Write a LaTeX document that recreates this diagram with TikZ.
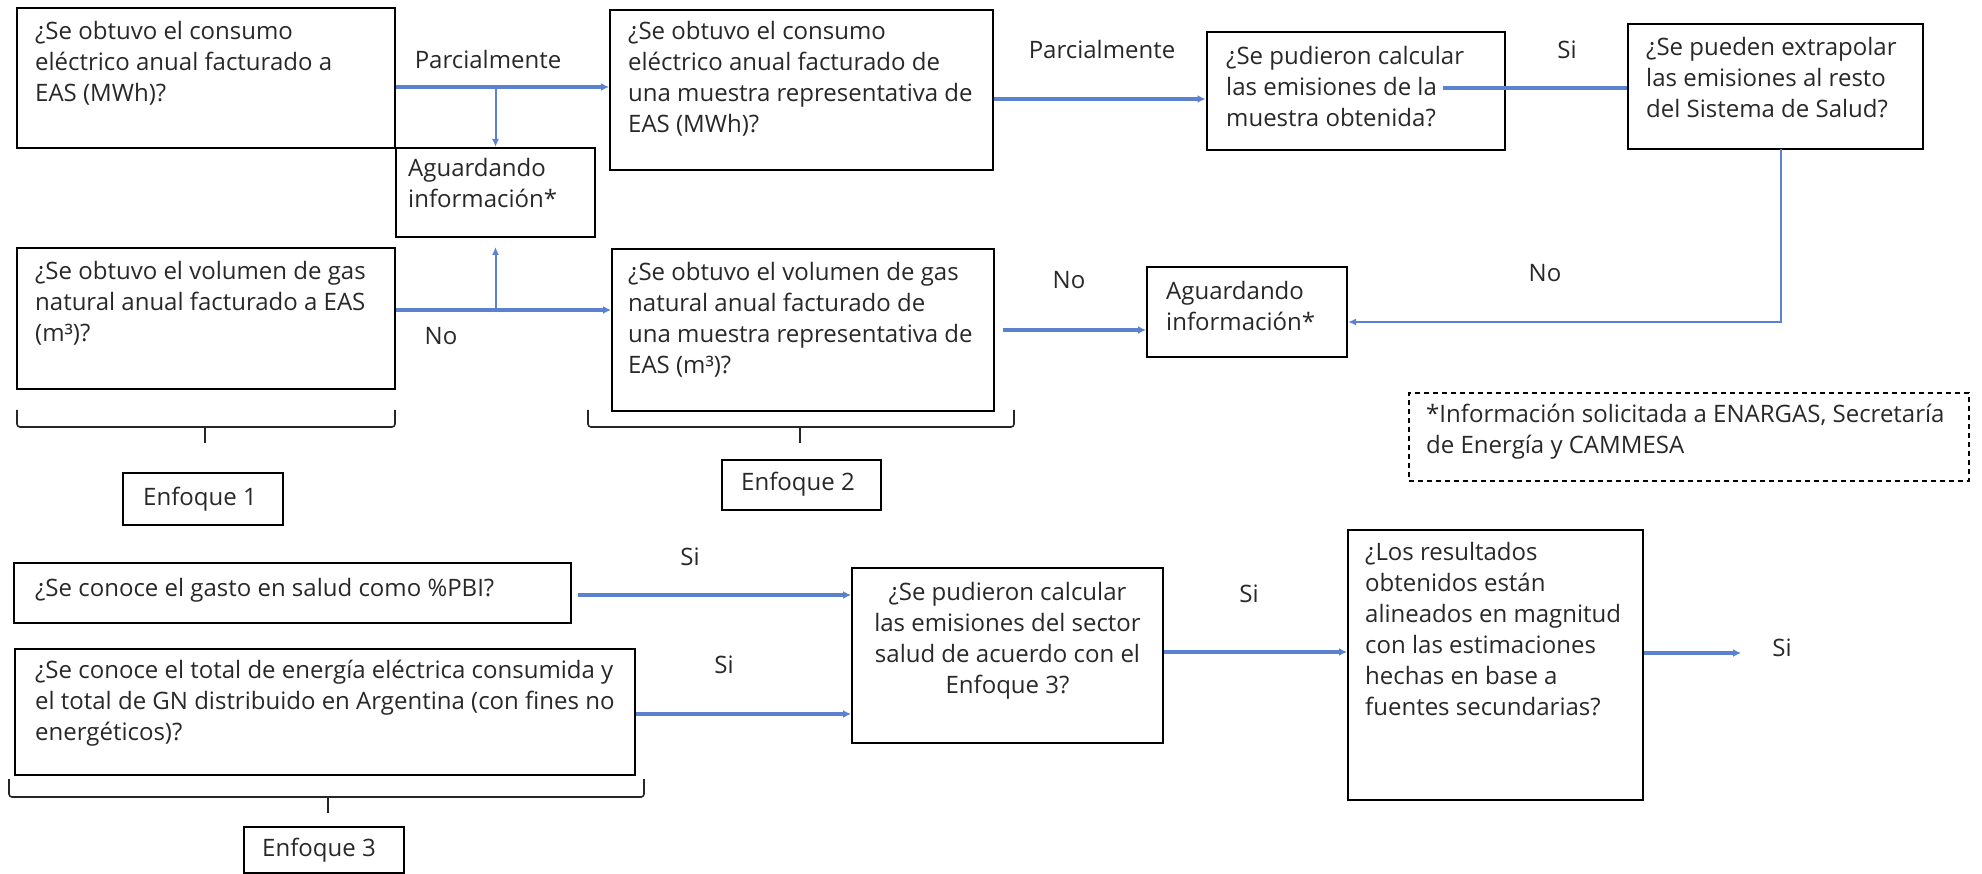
\documentclass[tikz,border=0pt]{standalone}
\usepackage{fontspec}
\setmainfont{Open Sans}
\usetikzlibrary{arrows.meta,calc}
\definecolor{conncol}{HTML}{5A82D0}
\definecolor{inkcol}{HTML}{282828}
\newcommand\txtlines[1]{\vtop{\halign{##\hfil\cr#1\crcr}}}
\newcommand\ctxtlines[1]{\vtop{\halign{\hfil##\hfil\cr#1\crcr}}}
\tikzset{
  qbox/.style={draw=black, line width=2pt, inner sep=0pt},
  notebox/.style={draw=black, line width=1.5pt, dash pattern=on 5pt off 4pt, inner sep=0pt},
  qtext/.style={anchor=base west, inner sep=0pt, text=inkcol, font=\fontsize{24}{31}\selectfont},
  ctext/.style={anchor=base, inner sep=0pt, text=inkcol, font=\fontsize{24}{31}\selectfont},
  arr/.style={draw=conncol, line width=3.2pt, -{Latex[length=8pt,width=8pt]}},
  thinarr/.style={draw=conncol, line width=2pt, -{Latex[length=8pt,width=7pt]}},
  plainconn/.style={draw=conncol, line width=3.2pt},
  bracketline/.style={draw=black!85, line width=1.6pt, rounded corners=3pt},
}
\begin{document}
\begin{tikzpicture}[x=1pt,y=-1pt]
\useasboundingbox (0,0) rectangle (1982,874);

% ---------- boxes ----------
\node[qbox, minimum width=378pt, minimum height=140pt] (a1) at (206,78.5) {};
\node[qbox, minimum width=199pt, minimum height=89pt] (w1) at (495.5,192.5) {};
\node[qbox, minimum width=378pt, minimum height=141pt] (a2) at (206,318.5) {};
\node[qbox, minimum width=160pt, minimum height=52pt] (enf1) at (203,499) {};
\node[qbox, minimum width=383pt, minimum height=160pt] (b1) at (801.5,90) {};
\node[qbox, minimum width=382pt, minimum height=162pt] (b2) at (803,330) {};
\node[qbox, minimum width=159pt, minimum height=50pt] (enf2) at (801.5,485) {};
\node[qbox, minimum width=298pt, minimum height=118pt] (c1) at (1355.5,91) {};
\node[qbox, minimum width=295pt, minimum height=125pt] (d1) at (1775.5,86.5) {};
\node[qbox, minimum width=200pt, minimum height=90pt] (w2) at (1247,312) {};
\node[notebox, minimum width=560pt, minimum height=88pt] (note) at (1689,437) {};
\node[qbox, minimum width=557pt, minimum height=60pt] (e1) at (292.5,593) {};
\node[qbox, minimum width=620pt, minimum height=126pt] (e2) at (324.5,712) {};
\node[qbox, minimum width=160pt, minimum height=46pt] (enf3) at (324,849.5) {};
\node[qbox, minimum width=311pt, minimum height=175pt] (f) at (1007.5,655.5) {};
\node[qbox, minimum width=295pt, minimum height=270pt] (g) at (1495.5,665) {};

% ---------- texts ----------
\node[qtext] (a1t) at (35,40) {\txtlines{¿Se obtuvo el consumo\cr eléctrico anual facturado a\cr EAS (MWh)?}};
\node[qtext] (w1t) at (408,177) {\txtlines{Aguardando\cr información*}};
\node[qtext] (a2t) at (35,280) {\txtlines{¿Se obtuvo el volumen de gas\cr natural anual facturado a EAS\cr (m³)?}};
\node[qtext] (enf1t) at (143,505) {Enfoque 1};
\node[qtext] (b1t) at (628,40) {\txtlines{¿Se obtuvo el consumo\cr eléctrico anual facturado de\cr una muestra representativa de\cr EAS (MWh)?}};
\node[qtext] (b2t) at (628,281) {\txtlines{¿Se obtuvo el volumen de gas\cr natural anual facturado de\cr una muestra representativa de\cr EAS (m³)?}};
\node[qtext] (enf2t) at (741,490) {Enfoque 2};
\node[qtext] (c1t) at (1226,65) {\txtlines{¿Se pudieron calcular\cr las emisiones de la\cr muestra obtenida?}};
\node[qtext] (d1t) at (1646,56) {\txtlines{¿Se pueden extrapolar\cr las emisiones al resto\cr del Sistema de Salud?}};
\node[qtext] (w2t) at (1166,300) {\txtlines{Aguardando\cr información*}};
\node[qtext] (notet) at (1426,423) {\txtlines{*Información solicitada a ENARGAS, Secretaría\cr de Energía y CAMMESA}};
\node[qtext] (e1t) at (35,596) {¿Se conoce el gasto en salud como \%PBI?};
\node[qtext] (e2t) at (35,678) {\txtlines{¿Se conoce el total de energía eléctrica consumida y\cr el total de GN distribuido en Argentina (con fines no\cr energéticos)?}};
\node[qtext] (enf3t) at (262,856) {Enfoque 3};
\node[ctext] (ft) at (1007.5,600) {\ctxtlines{¿Se pudieron calcular\cr las emisiones del sector\cr salud de acuerdo con el\cr Enfoque 3?}};
\node[qtext] (gt) at (1365,560) {\txtlines{¿Los resultados\cr obtenidos están\cr alineados en magnitud\cr con las estimaciones\cr hechas en base a\cr fuentes secundarias?}};

% ---------- labels ----------
\node[ctext] (lp1) at (488,69) {Parcialmente};
\node[ctext] (lp2) at (1102,59) {Parcialmente};
\node[ctext] (ls1) at (1567,59) {Si};
\node[ctext] (ln1) at (1545,282) {No};
\node[ctext] (ln2) at (441,345) {No};
\node[ctext] (ln3) at (1069,289) {No};
\node[ctext] (ls2) at (690,565) {Si};
\node[ctext] (ls3) at (724,673) {Si};
\node[ctext] (ls4) at (1249,602) {Si};
\node[ctext] (ls5) at (1782,656) {Si};

% ---------- connectors ----------
\coordinate (j1) at (495.5,87);
\coordinate (j2) at (495.5,310);
\draw[arr] (a1.east |- j1) -- (b1.west |- j1);
\draw[thinarr] (j1) -- (w1.north);
\draw[arr] (a2.east |- j2) -- (b2.west |- j2);
\draw[thinarr, shorten >=9pt] (j2) -- (w1.south);

\coordinate (yb1) at (0,99);
\draw[arr] (b1.east |- yb1) -- (c1.west |- yb1);
\coordinate (c1s) at (1443,88);
\draw[plainconn] (c1s) -- (d1.west |- c1s);
\coordinate (d1b) at (1781,149);
\draw[thinarr] (d1b) |- ($(w2.east)+(0,10)$);
\draw[arr, shorten <=8pt] (b2.east) -- (w2.west |- b2.east);

\coordinate (ye1) at (0,595);
\draw[arr, shorten <=6pt] (e1.east |- ye1) -- (f.west |- ye1);
\coordinate (ye2) at (0,714);
\draw[arr] (e2.east |- ye2) -- (f.west |- ye2);
\coordinate (yf) at (0,652);
\draw[arr] (f.east |- yf) -- (g.west |- yf);
\coordinate (gout) at (1741,653);
\draw[arr] (g.east |- gout) -- (gout);

% ---------- brackets ----------
\draw[bracketline] (17,410) -- (17,427) -- (395,427) -- (395,410);
\draw[bracketline] (205,427) -- (205,443);
\draw[bracketline] (588,410) -- (588,427) -- (1014,427) -- (1014,410);
\draw[bracketline] (800,427) -- (800,443);
\draw[bracketline] (9,779) -- (9,797) -- (644,797) -- (644,779);
\draw[bracketline] (328,797) -- (328,813);
\end{tikzpicture}
\end{document}
